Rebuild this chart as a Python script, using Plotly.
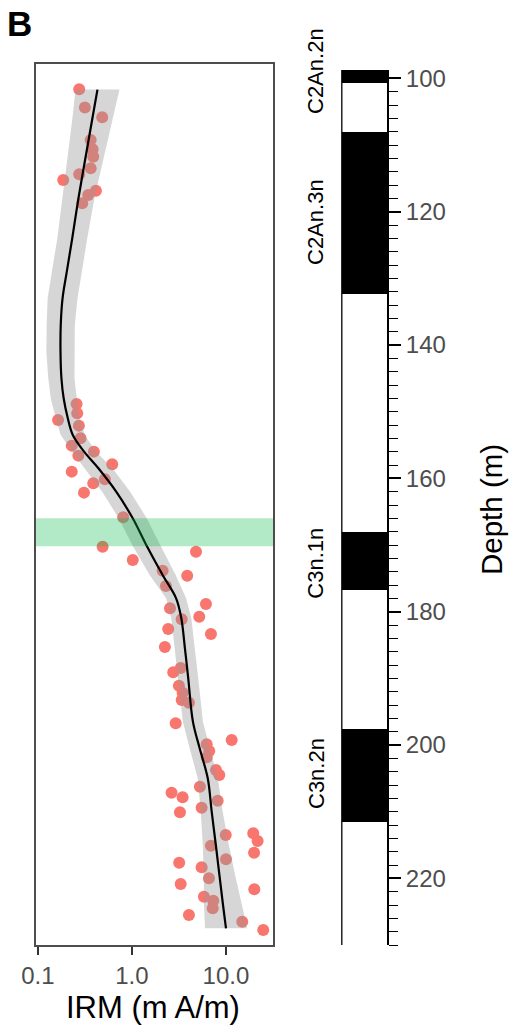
import plotly.graph_objects as go

# ---------------- data ----------------
# IRM samples: depth (m) and IRM (m A/m)
sample_depth = [101.65, 104.4, 105.85, 109.25, 110.65, 111.76, 113.5, 114.4, 115.25, 116.86,
                117.5, 118.75, 148.85, 150.25, 151.25, 152.1, 154.0, 155.1, 156.6, 156.0,
                157.9, 159.0, 160.15, 160.75, 162.15, 165.85, 170.25, 171.0, 172.25, 173.85,
                174.6, 176.15, 178.85, 179.5, 180.75, 181.15, 182.6, 183.35, 185.3, 189.1,
                188.45, 191.1, 192.15, 193.25, 193.65, 196.75, 199.25, 199.9, 200.9, 201.85,
                203.75, 204.5, 206.25, 207.15, 207.85, 208.35, 209.4, 210.1, 213.5, 213.25,
                214.4, 215.1, 216.15, 217.15, 217.65, 218.35, 220.0, 220.85, 221.65, 222.75,
                223.35, 224.5, 225.5, 226.5, 227.75]
sample_irm = [0.275, 0.316, 0.483, 0.364, 0.382, 0.388, 0.364, 0.275, 0.186, 0.414,
              0.343, 0.296, 0.258, 0.262, 0.164, 0.273, 0.284, 0.229, 0.269, 0.394,
              0.617, 0.229, 0.516, 0.388, 0.309, 0.807, 0.488, 4.80, 1.02, 2.12,
              3.87, 2.30, 6.12, 2.54, 5.20, 3.38, 2.43, 6.92, 2.24, 2.75,
              3.30, 3.16, 3.46, 3.38, 4.04, 2.92, 11.5, 6.24, 6.64, 6.24,
              7.83, 8.49, 5.28, 2.64, 3.46, 8.16, 5.51, 3.24, 9.94, 19.5,
              21.7, 6.92, 19.9, 10.0, 3.18, 5.51, 6.59, 3.30, 20.0, 5.83,
              7.33, 7.23, 4.04, 14.9, 24.9]

# smoothed trend with confidence band
smooth_depth = [101.7, 106, 112, 118, 124, 129, 133, 137, 141, 145, 148, 151, 153.5, 156,
                158.5, 162, 166, 170, 174.5, 178, 181, 185.5, 190, 196.5, 200.5, 205, 210,
                215, 220, 224, 227.5]
smooth_fit = [0.43, 0.38, 0.32, 0.27, 0.232, 0.203, 0.183, 0.175, 0.174, 0.178, 0.188, 0.208,
              0.235, 0.31, 0.44, 0.68, 1.02, 1.42, 2.12, 2.95, 3.35, 3.66, 3.97, 4.45, 5.25,
              6.4, 7.05, 7.8, 8.6, 9.3, 10.0]
smooth_lower = [0.251, 0.233, 0.206, 0.183, 0.161, 0.141, 0.127, 0.124, 0.123, 0.129, 0.137,
                0.155, 0.175, 0.231, 0.312, 0.483, 0.724, 1.008, 1.542, 2.31, 2.62, 2.86,
                3.11, 3.48, 4.11, 5.01, 5.39, 5.67, 5.81, 5.84, 5.98]
smooth_upper = [0.737, 0.620, 0.497, 0.399, 0.335, 0.293, 0.264, 0.247, 0.245, 0.245, 0.259,
                0.279, 0.315, 0.416, 0.620, 0.958, 1.437, 2.0, 2.915, 3.77, 4.28, 4.68,
                5.07, 5.69, 6.71, 8.18, 9.23, 10.73, 12.72, 14.8, 16.73]

# highlighted interval (m)
band_top, band_bottom = 166.0, 170.2

# magnetic polarity column
polarity_bounds = [98.75, 100.75, 108.0, 132.4, 168.0, 176.8, 197.6, 211.6, 230.0]
polarity_normal = [True, False, True, False, True, False, True, False]
chron_labels = ["C2An.2n", "C2An.3n", "C3n.1n", "C3n.2n"]
chron_depths = [98.9, 121.55, 172.8, 204.35]

depth_ticks = [100, 120, 140, 160, 180, 200, 220]
irm_ticks = [0.1, 1.0, 10.0]
irm_ticktext = ["0.1", "1.0", "10.0"]

# ---------------- figure ----------------
W, H = 510, 1026
FONT = "Liberation Sans, Arial, Helvetica, sans-serif"
fig = go.Figure()

# points
fig.add_trace(go.Scatter(
    x=sample_irm, y=sample_depth, mode="markers",
    marker=dict(color="#F8766D", size=12, line=dict(width=0)),
    xaxis="x", yaxis="y", showlegend=False, hoverinfo="skip"))

# confidence ribbon
fig.add_trace(go.Scatter(
    x=smooth_lower + smooth_upper[::-1], y=smooth_depth + smooth_depth[::-1],
    fill="toself", fillcolor="rgba(153,153,153,0.4)", line=dict(width=0),
    mode="lines", xaxis="x", yaxis="y", showlegend=False, hoverinfo="skip"))

# fitted line
fig.add_trace(go.Scatter(
    x=smooth_fit, y=smooth_depth, mode="lines",
    line=dict(color="black", width=2.2, shape="spline"),
    xaxis="x", yaxis="y", showlegend=False, hoverinfo="skip"))

# polarity blocks
tops = polarity_bounds[:-1]
heights = [b - t for t, b in zip(tops, polarity_bounds[1:])]
fig.add_trace(go.Bar(
    x=[0.5] * len(tops), y=heights, base=tops, width=1,
    marker=dict(color=["black" if n else "white" for n in polarity_normal], line=dict(width=0)),
    xaxis="x2", yaxis="y2", showlegend=False, hoverinfo="skip"))

# left edge of the polarity column
fig.add_trace(go.Scatter(
    x=[0, 0], y=[polarity_bounds[0], polarity_bounds[-1]], mode="lines",
    line=dict(color="black", width=1.3), xaxis="x2", yaxis="y2",
    showlegend=False, hoverinfo="skip"))

# green highlight band
fig.add_shape(type="rect", xref="x domain", yref="y", x0=0, x1=1,
              y0=band_top, y1=band_bottom, fillcolor="rgba(0,185,70,0.3)",
              line=dict(width=0), layer="above")

def px_x(p):
    return p / W

def px_y(p):
    return 1 - p / H

fig.update_layout(
    template="none",
    width=W, height=H, margin=dict(l=0, r=0, t=0, b=0, pad=0, autoexpand=False),
    paper_bgcolor="white", plot_bgcolor="white",
    font=dict(family=FONT, color="#4d4d4d"),
    bargap=0,
    xaxis=dict(
        type="log", domain=[px_x(36), px_x(273)], range=[-1.02, 1.5], automargin=False,
        tickvals=irm_ticks, ticktext=irm_ticktext, ticks="outside", ticklen=8,
        tickwidth=1.6, tickcolor="#333333", tickfont=dict(size=24, color="#4d4d4d"),
        showgrid=False, zeroline=False, showline=True, mirror=True,
        linecolor="#4d4d4d", linewidth=1.8, anchor="y"),
    yaxis=dict(
        domain=[px_y(945), px_y(64)], range=[230.0, 97.86], automargin=False,
        showticklabels=False, ticks="", showgrid=False, zeroline=False,
        showline=True, mirror=True, linecolor="#4d4d4d", linewidth=1.8, anchor="x"),
    xaxis2=dict(domain=[px_x(340), px_x(387)], range=[-0.04, 1.0], visible=False,
                anchor="y2", fixedrange=True, automargin=False, showgrid=False),
    yaxis2=dict(
        domain=[px_y(945), px_y(70)], range=[230.0, 98.75], anchor="x2", side="right",
        automargin=False,
        tickmode="array", tickvals=depth_ticks, ticks="outside", ticklen=12,
        tickwidth=1.6, tickcolor="black", tickfont=dict(size=24, color="#4d4d4d"),
        minor=dict(dtick=2, tick0=100, ticks="outside", ticklen=9, tickwidth=1.4,
                   tickcolor="black", showgrid=False),
        showgrid=False, zeroline=False, showline=True, linecolor="black", linewidth=2),
)

annotations = [
    dict(text="<b>B</b>", x=px_x(5), y=px_y(2), xref="paper", yref="paper",
         xanchor="left", yanchor="top", showarrow=False,
         font=dict(size=35, color="black", family=FONT)),
    dict(text="IRM (m A/m)", x=px_x(152.5), y=px_y(1007), xref="paper", yref="paper",
         xanchor="center", yanchor="middle", showarrow=False,
         font=dict(size=31, color="black", family=FONT)),
    dict(text="Depth (m)", x=px_x(492), y=px_y(510), xref="paper", yref="paper",
         xanchor="center", yanchor="middle", textangle=-90, showarrow=False,
         font=dict(size=29.5, color="black", family=FONT)),
]
for lab, d in zip(chron_labels, chron_depths):
    annotations.append(dict(text=lab, x=px_x(316), y=d, xref="paper", yref="y2",
                            xanchor="center", yanchor="middle", textangle=-90,
                            showarrow=False, font=dict(size=22, color="black", family=FONT)))
fig.update_layout(annotations=annotations)

fig.write_html("out.html")
